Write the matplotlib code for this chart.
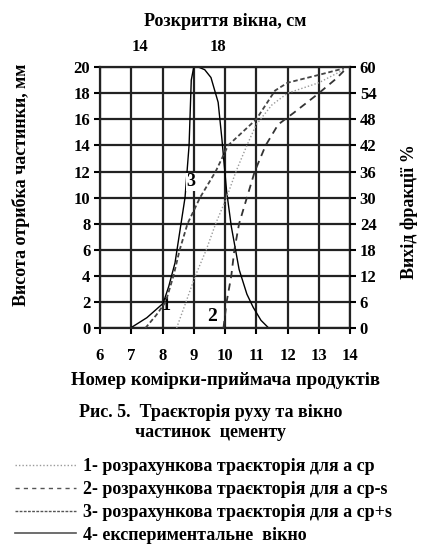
import matplotlib
matplotlib.use("Agg")
import matplotlib.pyplot as plt
from matplotlib.lines import Line2D

plt.rcParams["font.family"] = ["Liberation Serif", "DejaVu Serif"]
plt.rcParams["font.weight"] = "bold"
plt.rcParams["axes.labelweight"] = "bold"

# =========================================================
# DATA
# =========================================================

# 4 - experimental window, left axis (mm)
exp_x = [6.97, 7.5, 8.02, 8.2, 8.4, 8.56, 8.72, 8.85, 8.92, 9.0, 9.15, 9.35,
         9.55, 9.78, 9.9, 10.05, 10.2, 10.45, 10.7, 10.9, 11.15, 11.4]
exp_y = [0, 0.8, 1.9, 3.2, 5, 7.5, 10, 14, 19, 20, 20, 19.8,
         19.2, 17.3, 14.5, 10.5, 7.8, 4.5, 2.6, 1.6, 0.6, 0]

# 1 - calculated trajectory for a_cp, right axis (%)
cp_x = [8.45, 8.75, 9.05, 9.4, 9.7, 10.05, 10.35, 10.7, 11.0, 11.5, 12.0, 13.0, 13.8]
cp_y = [0, 6, 12, 18, 24, 30, 36, 42, 46.8, 51.3, 54, 56.4, 59.4]

# 2 - calculated trajectory for a_cp - s
cpm_x = [9.95, 10.05, 10.2, 10.3, 10.45, 10.7, 10.95, 11.3, 11.7, 12.2, 12.95, 13.55, 13.8]
cpm_y = [0, 6, 12, 18, 24, 30, 36, 42, 46.8, 49.5, 53.7, 57.3, 59.1]

# 3 - calculated trajectory for a_cp + s
cpp_x = [7.45, 7.8, 8.1, 8.35, 8.55, 8.8, 9.2, 9.7, 10.1, 11.0, 11.6, 12.0, 13.0, 13.8]
cpp_y = [0, 3, 6, 12, 18, 24, 30, 36, 42, 48, 54.6, 56.4, 58.2, 59.7]

x_ticks = [6, 7, 8, 9, 10, 11, 12, 13, 14]
left_ticks = [0, 2, 4, 6, 8, 10, 12, 14, 16, 18, 20]
right_ticks = [0, 6, 12, 18, 24, 30, 36, 42, 48, 54, 60]
top_ticks = [14, 18]

legend_labels = [
    "1- розрахункова траєкторія для а ср",
    "2- розрахункова траєкторія для а ср-s",
    "3- розрахункова траєкторія для а ср+s",
    "4- експериментальне  вікно",
]

# =========================================================
# FIGURE
# =========================================================

fig = plt.figure(figsize=(4.21, 5.59), dpi=100)
ax = fig.add_axes([0.2375, 0.413, 0.594, 0.467])

ax.set_xlim(6, 14)
ax.set_ylim(0, 20)
ax.set_xticks(x_ticks)
ax.set_yticks(left_ticks)
ax.grid(True, color="#222222", linewidth=1.6)
ax.tick_params(axis="y", direction="out", length=4, width=1.5, labelsize=12, pad=3)
ax.tick_params(axis="x", direction="out", length=4, width=1.5, labelsize=12, pad=10)
for s in ax.spines.values():
    s.set_linewidth(1.6)
    s.set_color("#222222")

ax.plot(exp_x, exp_y, color="black", linewidth=1.0)

ax2 = ax.twinx()
ax2.set_ylim(0, 60)
ax2.set_yticks(right_ticks)
ax2.tick_params(direction="out", length=4, width=1.5, labelsize=12, pad=3)
for s in ax2.spines.values():
    s.set_visible(False)

ax2.plot(cp_x, cp_y, color="#9a9a9a", linewidth=1.0, linestyle=(0, (1, 1.5)))
ax2.plot(cpm_x, cpm_y, color="#333333", linewidth=1.3, linestyle=(0, (4, 3)))
ax2.plot(cpp_x, cpp_y, color="#444444", linewidth=1.3, linestyle=(0, (2.5, 1.5)))

# curve labels
ax.text(8.1, 1.7, "1", fontsize=13, ha="center", va="center")
ax.text(9.6, 0.9, "2", fontsize=14, ha="center", va="center")
ax.text(8.92, 11.2, "3", fontsize=13, ha="center", va="center",
        bbox=dict(facecolor="white", edgecolor="none", pad=0.5))

# top axis: window opening
def to_top(x):
    return 14 + (x - 7.28) * 1.6

def from_top(w):
    return 7.28 + (w - 14) / 1.6

top = ax.secondary_xaxis("top", functions=(to_top, from_top))
top.set_xticks(top_ticks)
top.tick_params(length=0, labelsize=12, pad=9)
top.spines["top"].set_visible(False)
top.set_xlabel("Розкриття вікна, см", fontsize=13, labelpad=9)

ax.set_xlabel("Номер комірки-приймача продуктів", fontsize=13.5, labelpad=6)
ax.set_ylabel("Висота отрибка частинки, мм", fontsize=13)
ax.yaxis.set_label_coords(-0.28, 0.55)
ax2.set_ylabel("Вихід фракції %", fontsize=13)
ax2.yaxis.set_label_coords(1.2, 0.445)

# caption
fig.text(0.5, 0.262, "Рис. 5.  Траєкторія руху та вікно", fontsize=13,
         ha="center", va="center")
fig.text(0.5, 0.227, "частинок  цементу", fontsize=13,
         ha="center", va="center")

handles = [
    Line2D([], [], color="#9a9a9a", linewidth=1.0, linestyle=(0, (1, 1.5))),
    Line2D([], [], color="#555555", linewidth=1.0, linestyle=(0, (3, 3))),
    Line2D([], [], color="#555555", linewidth=1.0, linestyle=(0, (2, 1))),
    Line2D([], [], color="#555555", linewidth=1.2),
]
fig.legend(handles, legend_labels, loc="upper left",
           bbox_to_anchor=(0.035, 0.18), frameon=False, fontsize=13,
           handlelength=3.4, handletextpad=0.4, labelspacing=0.32,
           borderaxespad=0, borderpad=0)

fig.savefig("out.png", dpi=100)
